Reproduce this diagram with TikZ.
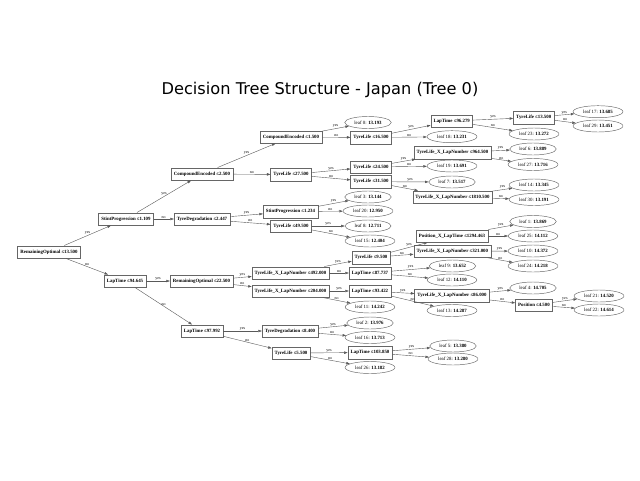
\documentclass[tikz,border=0pt]{standalone}
\usepackage{fontspec}
\setmainfont{Liberation Serif}
\newfontfamily\titlefont{DejaVu Sans}
\usetikzlibrary{arrows.meta,shapes.geometric}

\begin{document}
\begin{tikzpicture}[x=1pt, y=-1pt,
  split/.style={draw=black!60, line width=0.45pt, rectangle, minimum height=12.5pt, inner xsep=2.75pt, inner ysep=0pt, font=\fontsize{4.86}{5.5}\selectfont\bfseries},
  leaf/.style={draw=black!60, line width=0.45pt, ellipse, minimum height=12pt, inner xsep=2.8pt, inner ysep=1pt, font=\fontsize{4.86}{5.5}\selectfont},
  link/.style={draw=black!65, line width=0.4pt, -{Triangle[length=3.5pt,width=2.4pt]}},
  lbl/.style={midway, above=0.3pt, inner sep=0.3pt, font=\fontsize{4}{4.5}\selectfont}]
\fill[white] (0,0) rectangle (640,480);
\node[font=\titlefont\fontsize{16.2}{19}\selectfont] (title) at (320,90.5){Decision Tree Structure - Japan (Tree 0)};
\node[split] (n0) at (49,252){RemainingOptimal ≤13.500};
\node[split] (n1) at (126,219){StintProgression ≤1.109};
\node[split] (n2) at (202,174){CompoundEncoded ≤2.500};
\node[split] (n3) at (291,137){CompoundEncoded ≤1.500};
\node[leaf] (leaf0) at (368,122.5){leaf 0: \textbf{13.193}};
\node[split] (n4) at (371,137.5){TyreLife ≤16.500};
\node[split] (n5) at (451.7,121){LapTime ≤96.279};
\node[split] (n6) at (533.7,117.5){TyreLife ≤13.500};
\node[leaf] (leaf17) at (598,111.7){leaf 17: \textbf{13.685}};
\node[leaf] (leaf29) at (598,126){leaf 29: \textbf{13.451}};
\draw[link](n6) -- node[lbl]{yes} (leaf17);
\draw[link](n6) -- node[lbl]{no} (leaf29);
\node[leaf] (leaf23) at (534,134){leaf 23: \textbf{13.272}};
\draw[link](n5) -- node[lbl]{yes} (n6);
\draw[link](n5) -- node[lbl]{no} (leaf23);
\node[leaf] (leaf18) at (452,136.7){leaf 18: \textbf{13.231}};
\draw[link](n4) -- node[lbl]{yes} (n5);
\draw[link](n4) -- node[lbl]{no} (leaf18);
\draw[link](n3) -- node[lbl]{yes} (leaf0);
\draw[link](n3) -- node[lbl]{no} (n4);
\node[split] (n7) at (291,174.5){TyreLife ≤27.500};
\node[split] (n8) at (371,167){TyreLife ≤24.500};
\node[split] (n9) at (452.5,152.7){TyreLife\_X\_LapNumber ≤964.500};
\node[leaf] (leaf6) at (533,149){leaf 6: \textbf{13.889}};
\node[leaf] (leaf27) at (533,164.5){leaf 27: \textbf{13.716}};
\draw[link](n9) -- node[lbl]{yes} (leaf6);
\draw[link](n9) -- node[lbl]{no} (leaf27);
\node[leaf] (leaf19) at (452,166){leaf 19: \textbf{13.691}};
\draw[link](n8) -- node[lbl]{yes} (n9);
\draw[link](n8) -- node[lbl]{no} (leaf19);
\node[split] (n10) at (371,181.7){TyreLife ≤31.500};
\node[leaf] (leaf7) at (452,182){leaf 7: \textbf{13.517}};
\node[split] (n11) at (452.5,197){TyreLife\_X\_LapNumber ≤1810.500};
\node[leaf] (leaf14) at (534,185){leaf 14: \textbf{13.345}};
\node[leaf] (leaf30) at (534,199.5){leaf 30: \textbf{13.191}};
\draw[link](n11) -- node[lbl]{yes} (leaf14);
\draw[link](n11) -- node[lbl]{no} (leaf30);
\draw[link](n10) -- node[lbl]{yes} (leaf7);
\draw[link](n10) -- node[lbl]{no} (n11);
\draw[link](n7) -- node[lbl]{yes} (n8);
\draw[link](n7) -- node[lbl]{no} (n10);
\draw[link](n2) -- node[lbl]{yes} (n3);
\draw[link](n2) -- node[lbl]{no} (n7);
\node[split] (n12) at (202,219){TyreDegradation ≤2.447};
\node[split] (n13) at (290.5,211.5){StintProgression ≤1.234};
\node[leaf] (leaf3) at (368,197){leaf 3: \textbf{13.144}};
\node[leaf] (leaf20) at (368,211){leaf 20: \textbf{12.950}};
\draw[link](n13) -- node[lbl]{yes} (leaf3);
\draw[link](n13) -- node[lbl]{no} (leaf20);
\node[split] (n14) at (291,226){TyreLife ≤49.500};
\node[leaf] (leaf8) at (368,226){leaf 8: \textbf{12.711}};
\node[leaf] (leaf15) at (370,241){leaf 15: \textbf{12.404}};
\draw[link](n14) -- node[lbl]{yes} (leaf8);
\draw[link](n14) -- node[lbl]{no} (leaf15);
\draw[link](n12) -- node[lbl]{yes} (n13);
\draw[link](n12) -- node[lbl]{no} (n14);
\draw[link](n1) -- node[lbl]{yes} (n2);
\draw[link](n1) -- node[lbl]{no} (n12);
\node[split] (n15) at (125,281){LapTime ≤94.645};
\node[split] (n16) at (201.5,281){RemainingOptimal ≤22.500};
\node[split] (n17) at (290.5,273){TyreLife\_X\_LapNumber ≤492.000};
\node[split] (n18) at (371,257.5){TyreLife ≤9.500};
\node[split] (n19) at (452,236){Position\_X\_LapTime ≤1294.463};
\node[leaf] (leaf1) at (533,221.5){leaf 1: \textbf{13.869}};
\node[leaf] (leaf25) at (533,236){leaf 25: \textbf{14.112}};
\draw[link](n19) -- node[lbl]{yes} (leaf1);
\draw[link](n19) -- node[lbl]{no} (leaf25);
\node[split] (n20) at (452.3,251.3){TyreLife\_X\_LapNumber ≤321.000};
\node[leaf] (leaf10) at (533,251){leaf 10: \textbf{14.372}};
\node[leaf] (leaf24) at (533,266){leaf 24: \textbf{14.218}};
\draw[link](n20) -- node[lbl]{yes} (leaf10);
\draw[link](n20) -- node[lbl]{no} (leaf24);
\draw[link](n18) -- node[lbl]{yes} (n19);
\draw[link](n18) -- node[lbl]{no} (n20);
\node[split] (n21) at (370,273){LapTime ≤87.737};
\node[leaf] (leaf9) at (452.5,266){leaf 9: \textbf{13.652}};
\node[leaf] (leaf12) at (452,280){leaf 12: \textbf{14.110}};
\draw[link](n21) -- node[lbl]{yes} (leaf9);
\draw[link](n21) -- node[lbl]{no} (leaf12);
\draw[link](n17) -- node[lbl]{yes} (n18);
\draw[link](n17) -- node[lbl]{no} (n21);
\node[split] (n22) at (290.5,291){TyreLife\_X\_LapNumber ≤204.000};
\node[split] (n23) at (370,291){LapTime ≤93.422};
\node[split] (n24) at (452,295.7){TyreLife\_X\_LapNumber ≤86.000};
\node[leaf] (leaf4) at (533,288){leaf 4: \textbf{14.705}};
\node[split] (n25) at (534,305){Position ≤4.500};
\node[leaf] (leaf21) at (599,296){leaf 21: \textbf{14.520}};
\node[leaf] (leaf22) at (599,310){leaf 22: \textbf{14.614}};
\draw[link](n25) -- node[lbl]{yes} (leaf21);
\draw[link](n25) -- node[lbl]{no} (leaf22);
\draw[link](n24) -- node[lbl]{yes} (leaf4);
\draw[link](n24) -- node[lbl]{no} (n25);
\node[leaf] (leaf13) at (452,310.5){leaf 13: \textbf{14.287}};
\draw[link](n23) -- node[lbl]{yes} (n24);
\draw[link](n23) -- node[lbl]{no} (leaf13);
\node[leaf] (leaf11) at (370,307){leaf 11: \textbf{14.242}};
\draw[link](n22) -- node[lbl]{yes} (n23);
\draw[link](n22) -- node[lbl]{no} (leaf11);
\draw[link](n16) -- node[lbl]{yes} (n17);
\draw[link](n16) -- node[lbl]{no} (n22);
\node[split] (n26) at (202,331){LapTime ≤97.992};
\node[split] (n27) at (290,331){TyreDegradation ≤8.400};
\node[leaf] (leaf2) at (370,323){leaf 2: \textbf{13.976}};
\node[leaf] (leaf16) at (370,337.5){leaf 16: \textbf{13.713}};
\draw[link](n27) -- node[lbl]{yes} (leaf2);
\draw[link](n27) -- node[lbl]{no} (leaf16);
\node[split] (n28) at (291,353){TyreLife ≤5.500};
\node[split] (n29) at (370,352.5){LapTime ≤103.850};
\node[leaf] (leaf5) at (453,346){leaf 5: \textbf{13.380}};
\node[leaf] (leaf28) at (453,359){leaf 28: \textbf{13.280}};
\draw[link](n29) -- node[lbl]{yes} (leaf5);
\draw[link](n29) -- node[lbl]{no} (leaf28);
\node[leaf] (leaf26) at (370,367.5){leaf 26: \textbf{13.182}};
\draw[link](n28) -- node[lbl]{yes} (n29);
\draw[link](n28) -- node[lbl]{no} (leaf26);
\draw[link](n26) -- node[lbl]{yes} (n27);
\draw[link](n26) -- node[lbl]{no} (n28);
\draw[link](n15) -- node[lbl]{yes} (n16);
\draw[link](n15) -- node[lbl]{no} (n26);
\draw[link](n0) -- node[lbl]{yes} (n1);
\draw[link](n0) -- node[lbl]{no} (n15);
\end{tikzpicture}
\end{document}
